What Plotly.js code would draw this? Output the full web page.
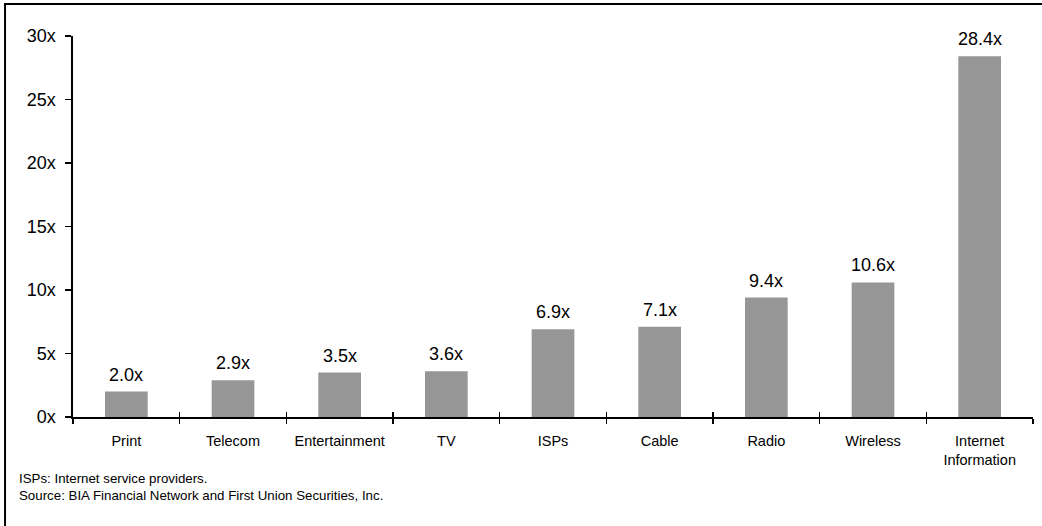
<!DOCTYPE html>
<html>
<head>
<meta charset="utf-8">
<script src="https://cdn.plot.ly/plotly-3.0.1.min.js"></script>
<style>html,body{margin:0;padding:0;background:#fff;}#chart{width:1042px;height:526px;}</style>
</head>
<body>
<div id="chart"></div>
<script>
const categories = ["Print", "Telecom", "Entertainment", "TV", "ISPs", "Cable", "Radio", "Wireless", "Internet<br>Information"];
const multiples = [2.0, 2.9, 3.5, 3.6, 6.9, 7.1, 9.4, 10.6, 28.4];
const yTickValues = [0, 5, 10, 15, 20, 25, 30];
const footnotes = ["ISPs: Internet service providers.", "Source: BIA Financial Network and First Union Securities, Inc."];

const FONT = "Liberation Sans, Arial, sans-serif";
const barColor = "#969696";

const traces = [
  {
    type: "bar",
    x: categories,
    y: multiples,
    marker: {color: barColor, line: {width: 0}},
    width: 0.4,
    hoverinfo: "skip"
  },
  {
    type: "scatter",
    mode: "markers",
    x: categories,
    y: multiples,
    xaxis: "x2",
    yaxis: "y",
    marker: {opacity: 0},
    hoverinfo: "skip",
    showlegend: false
  }
];

const annotations = categories.map((c, i) => ({
  x: c, y: multiples[i], xref: "x", yref: "y",
  text: multiples[i].toFixed(1) + "x",
  showarrow: false, yanchor: "bottom", yshift: 5,
  font: {family: FONT, size: 18, color: "#000"}
}));
annotations.push({
  xref: "paper", yref: "paper", x: -0.0583, y: -0.137,
  xanchor: "left", yanchor: "top", align: "left",
  text: footnotes.join("<br>"), showarrow: false,
  font: {family: FONT, size: 13.3, color: "#000"}
});

const layout = {
  width: 1042, height: 526,
  margin: {l: 73, r: 9, t: 36, b: 109, pad: 0},
  paper_bgcolor: "#fff", plot_bgcolor: "#fff",
  showlegend: false,
  bargap: 0.6,
  xaxis: {
    type: "category", range: [-0.5, 8.5],
    showline: true, linecolor: "#000", linewidth: 1.7,
    ticks: "outside", tickson: "boundaries", ticklen: 5, tickwidth: 1.5, tickcolor: "#000",
    showgrid: false, zeroline: false,
    tickfont: {family: FONT, size: 14.5, color: "#000"},
    ticklabelstandoff: 10,
    fixedrange: true
  },
  xaxis2: {
    type: "category", range: [-0.5, 8.5], overlaying: "x", anchor: "y",
    showline: false, ticks: "inside", tickson: "boundaries", ticklen: 5, tickwidth: 1.5, tickcolor: "#000",
    showticklabels: false, showgrid: false, zeroline: false
  },
  yaxis: {
    range: [0, 30], tickvals: yTickValues, ticktext: yTickValues.map(v => v + "x"),
    showline: true, linecolor: "#000", linewidth: 1.7,
    ticks: "outside", ticklen: 6, tickwidth: 1.5, tickcolor: "#000",
    showgrid: false, zeroline: false,
    tickfont: {family: FONT, size: 18, color: "#000"},
    ticklabelstandoff: 6,
    fixedrange: true
  },
  annotations: annotations,
  shapes: [{
    type: "rect", xref: "paper", yref: "paper",
    x0: -0.0708, x1: 1.2, y0: -0.5, y1: 1.084,
    line: {color: "#000", width: 2}, fillcolor: "rgba(0,0,0,0)", layer: "above"
  }]
};

Plotly.newPlot("chart", traces, layout, {staticPlot: true, displayModeBar: false});
</script>
</body>
</html>
